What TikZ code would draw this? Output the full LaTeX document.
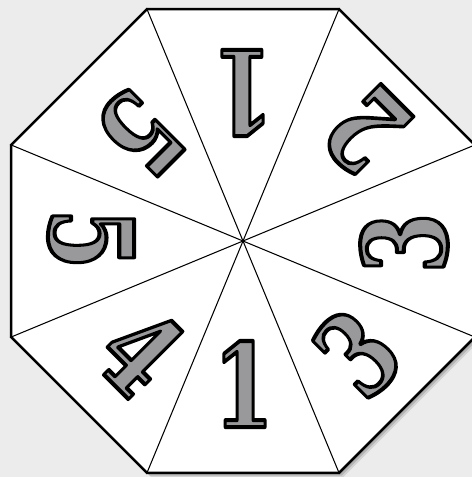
\documentclass[tikz,border=0pt]{standalone}
\usepackage{fontspec}
\usepackage{xcolor}
\definecolor{bggray}{RGB}{235,236,235}
\definecolor{digitgray}{RGB}{153,153,155}
\newfontfamily\digitfont{DejaVu Serif}
\newcommand{\outlined}[1]{\special{pdf:literal direct 2 Tr 2.3 w 1 j 0 G}#1\special{pdf:literal direct 0 Tr}}
\usetikzlibrary{shapes.geometric,shadows}

\begin{document}
\begin{tikzpicture}[
    x=0.02cm, y=-0.02cm,
    octagon/.style={regular polygon, regular polygon sides=8, minimum size=10.04cm, inner sep=0pt,
      draw=black, line width=1.35pt, fill=white,
      drop shadow={shadow xshift=2.4pt, shadow yshift=-2.4pt, fill=black, opacity=0.10},
      drop shadow={shadow xshift=1.6pt, shadow yshift=-1.6pt, fill=black, opacity=0.14},
      drop shadow={shadow xshift=0.8pt, shadow yshift=-0.8pt, fill=black, opacity=0.18}},
    spoke/.style={draw=black, line width=0.6pt},
    digit/.style={font=\digitfont\bfseries\fontsize{66}{66}\selectfont, text=digitgray,
      inner sep=0pt, xscale=0.75}
  ]
    \useasboundingbox (0,0) rectangle (472,477);
    \clip (0,0) rectangle (472,477);
    \fill[bggray] (0,0) rectangle (472,477);

    \node[octagon] (oct) at (243,241) {};
    \foreach \k in {1,...,8}
      \draw[spoke] (oct.center) -- (oct.corner \k);

    % digits, tops toward the centre
    \node[rotate=180,  digit] (top)    at (243.5,93) {\outlined{1}};
    \node[rotate=135,  digit] (topr)   at (366,130)  {\outlined{2}};
    \node[rotate=90,   digit] (right)  at (404,243)  {\outlined{3}};
    \node[rotate=45,   digit] (botr)   at (357,353)  {\outlined{3}};
    \node[rotate=0,    digit] (bot)    at (243.5,384) {\outlined{1}};
    \node[rotate=-45,  digit] (botl)   at (141,351)  {\outlined{4}};
    \node[rotate=-90,  digit] (left)   at (91,239)   {\outlined{5}};
    \node[rotate=-135, digit] (topl)   at (140,133)  {\outlined{5}};
  \end{tikzpicture}
\end{document}
